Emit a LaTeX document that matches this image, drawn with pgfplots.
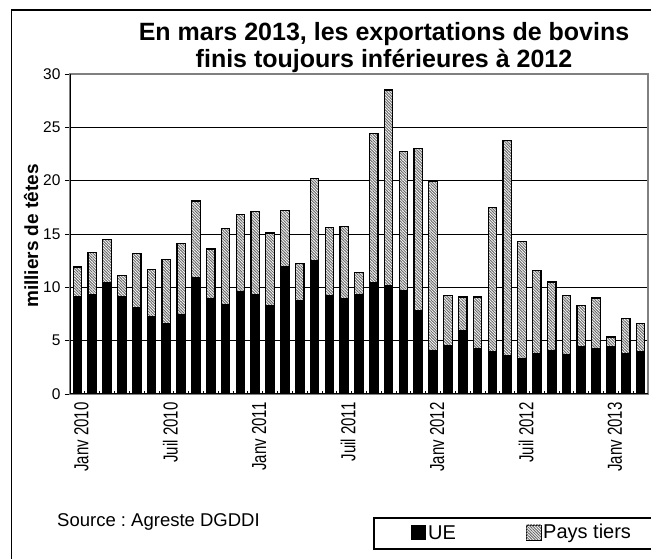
\documentclass[border=0pt]{standalone}
\usepackage{pgfplots}
\pgfplotsset{compat=1.18}
\usepackage{pgfplotstable}
\usetikzlibrary{patterns.meta}
\usepackage{fontspec}
\setmainfont{Liberation Sans}
\frenchspacing

\pgfplotstableread{
x ue pt
0 9.1 2.8
1 9.3 4.0
2 10.4 4.1
3 9.1 2.0
4 8.1 5.1
5 7.3 4.4
6 6.6 6.0
7 7.4 6.7
8 10.9 7.2
9 8.9 4.7
10 8.4 7.1
11 9.6 7.2
12 9.3 7.8
13 8.3 6.8
14 11.9 5.3
15 8.8 3.4
16 12.5 7.7
17 9.2 6.4
18 8.9 6.8
19 9.3 2.1
20 10.4 14.0
21 10.2 18.3
22 9.7 13.0
23 7.8 15.2
24 4.1 15.8
25 4.5 4.7
26 5.95 3.15
27 4.3 4.8
28 4.0 13.5
29 3.6 20.2
30 3.3 11.0
31 3.8 7.8
32 4.1 6.4
33 3.7 5.5
34 4.4 3.9
35 4.3 4.7
36 4.4 0.95
37 3.8 3.3
38 4.0 2.6
}\data

\tikzset{hatchfill/.style={fill=white, postaction={pattern={Lines[angle=-45, distance=2pt, line width=1pt]}, pattern color=gray!85!black}}}
\newcommand{\tl}[1]{\scalebox{1}[1.35]{#1}}

\begin{document}
\begin{tikzpicture}
\useasboundingbox (0,0) rectangle (651pt,559pt);
\fill[white] (0,0) rectangle (651pt,559pt);
\begin{scope}
\clip (0,0) rectangle (651pt,559pt);
\draw[line width=1.2pt] (11.5pt,-10pt) -- (11.5pt,549pt) -- (680pt,549pt);
\draw[line width=1.4pt] (374pt,10pt) rectangle (680pt,41pt);
\end{scope}
\begin{axis}[
  at={(70pt,165pt)}, anchor=south west,
  scale only axis, width=578pt, height=320pt,
  ymin=0, ymax=30, ytick={0,5,...,30},
  xmin=-0.5, xmax=38.5,
  ybar stacked, bar width=8.5pt,
  axis line style={gray, line width=1.2pt},
  tick pos=left,
  tick align=outside,
  major tick length=5pt,
  ytick style={black, line width=0.8pt},
  xtick={0,6,12,18,24,30,36},
  xticklabels={\tl{Janv 2010},\tl{Juil 2010},\tl{Janv 2011},\tl{Juil 2011},\tl{Janv 2012},\tl{Juil 2012},\tl{Janv 2013}},
  major x tick style={draw=none},
  minor xtick={-0.5,0.5,...,38.5},
  minor tick length=3pt,
  minor x tick style={black, line width=0.8pt, yshift=3pt},
  ymajorgrids, major grid style={black, line width=0.8pt},
  /pgf/number format/assume math mode=true,
  yticklabel style={font=\fontsize{15.5}{15.5}\selectfont, xshift=-1pt},
  xticklabel style={rotate=90, anchor=east, font=\fontsize{15}{15}\selectfont, yshift=-4pt},
]
\addplot[fill=black, draw=black, line width=1.2pt] table[x=x, y=ue]{\data};
\addplot[hatchfill, draw=black, line width=1.2pt] table[x=x, y=pt]{\data};
\draw[black, line width=1.2pt] (rel axis cs:0,1) -- (rel axis cs:0,0) -- (rel axis cs:1,0);
\end{axis}
\node[font=\bfseries\fontsize{25}{25}\selectfont] at (384pt,525pt) {En mars 2013, les exportations de bovins};
\node[font=\bfseries\fontsize{25}{25}\selectfont] at (384pt,498pt) {finis toujours inférieures à 2012};
\node[rotate=90, font=\bfseries\fontsize{19}{19}\selectfont] at (31pt,323pt) {milliers de têtes};
\node[anchor=west, font=\fontsize{18.5}{18.5}\selectfont, inner sep=0pt] at (57pt,37pt) {Source : Agreste DGDDI};
\fill[black] (411pt,19pt) rectangle (426pt,34pt);
\node[anchor=west, font=\fontsize{20}{20}\selectfont, inner sep=0pt] at (428pt,26pt) {UE};
\draw[hatchfill, draw=black, line width=0.8pt] (526pt,19pt) rectangle (541pt,34pt);
\node[anchor=west, font=\fontsize{20}{20}\selectfont, inner sep=0pt] at (543pt,26pt) {Pays tiers};
\end{tikzpicture}
\end{document}
